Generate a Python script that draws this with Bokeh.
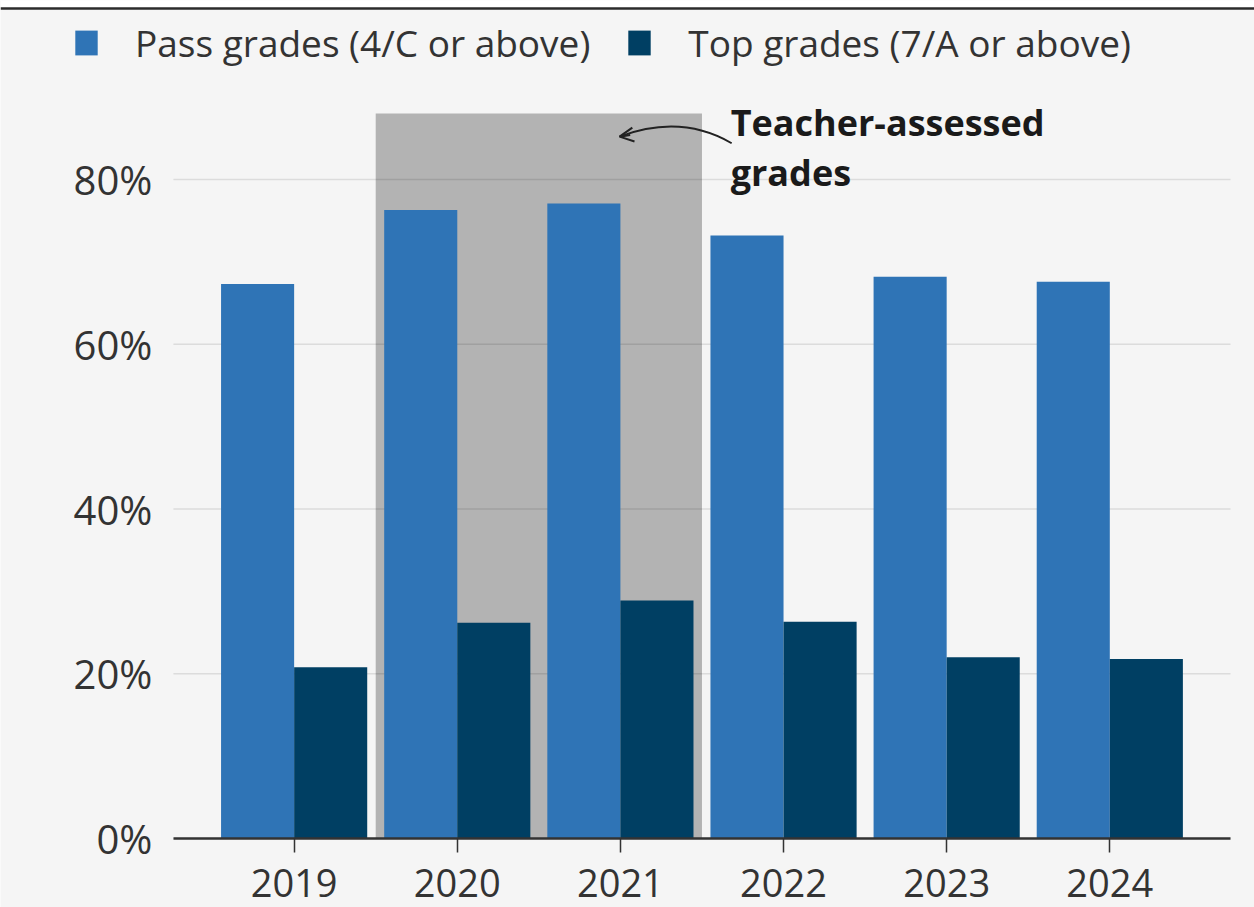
from bokeh.plotting import figure
from bokeh.models import (Range1d, FixedTicker, Legend, LegendItem, Arrow, OpenHead,
                          Span, BoxAnnotation)
from bokeh.core.properties import value
from bokeh.embed import file_html
from bokeh.resources import INLINE

# ---- data ----
years = ["2019", "2020", "2021", "2022", "2023", "2024"]
pass_grades = [67.3, 76.3, 77.1, 73.2, 68.2, 67.6]
top_grades = [20.8, 26.2, 28.9, 26.3, 22.0, 21.8]
y_ticks = [0, 20, 40, 60, 80]
y_tick_labels = ["0%", "20%", "40%", "60%", "80%"]
band_years = ["2020", "2021"]
band_top = 88
legend_labels = ["Pass grades (4/C or above)", "Top grades (7/A or above)"]
annotation_lines = ["Teacher-assessed", "grades"]

PASS_COLOR = "#2f74b6"
TOP_COLOR = "#003f63"
BAND_COLOR = "#b3b3b3"
BG = "#f5f5f5"
FONT = "Open Sans"
TEXT = "#333333"

xs = list(range(len(years)))
off = 0.224
bw = 0.448
X0, X1 = -0.74, 5.74          # extent of the plotted area (axis + grid)
Y_START, Y_END = -8.376, 101.73
RULE_Y = 100.76

p = figure(width=1254, height=907, output_backend="svg", toolbar_location=None,
           x_range=Range1d(-1.80, 5.887), y_range=Range1d(Y_START, Y_END),
           y_axis_location=None,
           min_border_left=0, min_border_right=0, min_border_top=0, min_border_bottom=0)
p.background_fill_color = BG
p.border_fill_color = BG
p.outline_line_color = None
p.ygrid.grid_line_color = None
p.xgrid.grid_line_color = None

# top rule of the graphic
p.add_layout(BoxAnnotation(bottom=RULE_Y, top=Y_END + 1, left=-1.80, right=5.887,
                           fill_color="white", fill_alpha=1, line_color=None))
p.add_layout(Span(location=RULE_Y, dimension="width", line_color="#2b2b2b", line_width=2.5))

# shaded band
bi = [years.index(y) for y in band_years]
p.quad(left=[min(bi) - 0.5], right=[max(bi) + 0.5], bottom=[0], top=[band_top],
       fill_color=BAND_COLOR, line_color=None, level="image")

# horizontal grid lines (from the y ticks)
p.segment(x0=[X0] * len(y_ticks), x1=[X1] * len(y_ticks), y0=y_ticks, y1=y_ticks,
          line_color="black", line_alpha=0.1, line_width=1.5, level="underlay")

# y tick labels
p.text(x=[X0] * len(y_ticks), y=y_ticks, text=y_tick_labels, x_offset=-21,
       text_align="right", text_baseline="middle", text_font=value(FONT),
       text_font_size="40px", text_color=TEXT)

r_pass = p.vbar(x=[x - off for x in xs], top=pass_grades, width=bw, bottom=0,
                fill_color=PASS_COLOR, line_color=None)
r_top = p.vbar(x=[x + off for x in xs], top=top_grades, width=bw, bottom=0,
               fill_color=TOP_COLOR, line_color=None)

# x axis, drawn at y = 0 inside the plotting area
p.xaxis.fixed_location = 0
p.xaxis.bounds = (X0, X1)
p.xaxis.ticker = FixedTicker(ticks=xs)
p.xaxis.major_label_overrides = {x: y for x, y in zip(xs, years)}
p.xaxis.axis_line_color = "#333333"
p.xaxis.axis_line_width = 2.5
p.xaxis.major_tick_line_color = "#333333"
p.xaxis.major_tick_line_width = 1.5
p.xaxis.major_tick_out = 14
p.xaxis.major_tick_in = 0
p.xaxis.minor_tick_line_color = None
p.xaxis.major_label_standoff = 16
p.xaxis.major_label_text_font = FONT
p.xaxis.major_label_text_font_size = "38px"
p.xaxis.major_label_text_color = TEXT

# annotation
p.text(x=[2.676, 2.676], y=[86.9, 80.8], text=annotation_lines,
       text_font=value(FONT), text_font_style="bold", text_font_size="36px",
       text_color="#1a1a1a", text_baseline="alphabetic", text_align="left")
p.quadratic(x0=[2.682], y0=[84.4], x1=[1.995], y1=[85.2], cx=[2.369], cy=[88.0],
            line_color="#222222", line_width=2)
p.add_layout(Arrow(end=OpenHead(size=14, line_color="#222222", line_width=2),
                   x_start=2.06, y_start=85.4, x_end=1.995, y_end=85.2,
                   line_color="#222222", line_width=2))

legend = Legend(items=[LegendItem(label=legend_labels[0], renderers=[r_pass]),
                       LegendItem(label=legend_labels[1], renderers=[r_top])],
                orientation="horizontal", location=(72, 839),
                glyph_width=28, glyph_height=31, label_standoff=35, spacing=35,
                padding=0, margin=0, background_fill_alpha=0, border_line_color=None,
                label_text_font=FONT, label_text_font_size="37px", label_text_color=TEXT)
p.add_layout(legend, "center")

open("out.html", "w").write(file_html(p, INLINE))
